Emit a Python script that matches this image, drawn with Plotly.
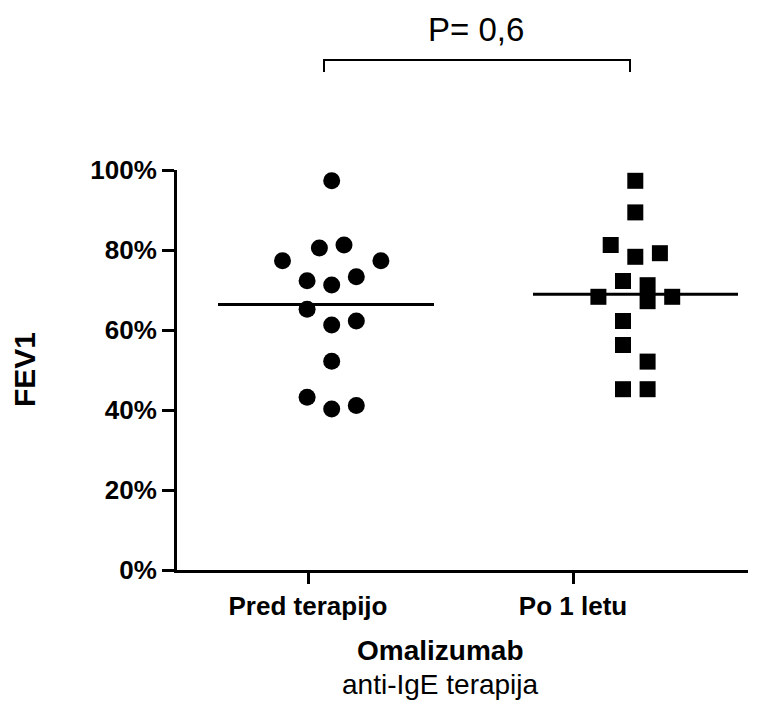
import numpy as np
import plotly.graph_objects as go

# ---- data (FEV1 in %) ----
categories = ["Pred terapijo", "Po 1 letu"]
fev1_pred = [97.3, 80.5, 81.25, 77.3, 77.3, 72.3, 71.25, 73.3, 65.2, 61.25, 62.25, 52.2, 43.2, 40.25, 41.1]
fev1_po = [97.3, 89.4, 81.25, 78.3, 79.2, 72.25, 71.2, 67.2, 68.3, 68.3, 62.25, 56.25, 52.1, 45.2, 45.2]
y_ticks = [0, 20, 40, 60, 80, 100]
y_tick_labels = ["0%", "20%", "40%", "60%", "80%", "100%"]
p_text = "P= 0,6"

# ---- layout / style (beeswarm column slots, in half-column units) ----
slots_pred = [0, -1, 1, -4, 4, -2, 0, 2, -2, 0, 2, 0, -2, 0, 2]
slots_po = [0, 0, -2, 0, 2, -1, 1, 1, -3, 3, -1, -1, 1, -1, 1]
X_RANGE = [0, 571]           # horizontal axis in pixel-like units
TICK_POS = [131, 396]
GROUP_CENTER = [154.7, 458.3]
SLOT_W = 12.3
LINE_CENTER = [149, 458.5]
LINE_HALF = [108, 102.5]

FONT = "Liberation Sans, Arial, Helvetica, sans-serif"

# page offset (default body margin of the html page)
OFF = 8
PL, PR, PT, PB = 177, 748, 170, 570   # plot box in page pixels
W, H = 783 - OFF, 702 - OFF


def px(x):
    return (x - PL) / (PR - PL)


def py(y):
    return (PB - y) / (PB - PT)


fig = go.Figure()

groups = [(fev1_pred, slots_pred, "circle", 17), (fev1_po, slots_po, "square", 16)]
for i, (vals, slots, sym, sz) in enumerate(groups):
    xs = [GROUP_CENTER[i] + s * SLOT_W for s in slots]
    fig.add_trace(go.Scatter(
        x=xs, y=vals, mode="markers",
        marker=dict(symbol=sym, size=sz, color="black", line=dict(width=0)),
        showlegend=False, hoverinfo="y", cliponaxis=False))
    m = float(np.mean(vals))
    fig.add_trace(go.Scatter(
        x=[LINE_CENTER[i] - LINE_HALF[i], LINE_CENTER[i] + LINE_HALF[i]], y=[m, m],
        mode="lines", line=dict(color="black", width=3),
        showlegend=False, hoverinfo="skip"))

fig.update_layout(
    width=W, height=H,
    margin=dict(l=PL - OFF, r=W - (PR - OFF), t=PT - OFF, b=H - (PB - OFF)),
    plot_bgcolor="white", paper_bgcolor="white",
    font=dict(family=FONT, color="black"),
    xaxis=dict(range=X_RANGE, tickvals=TICK_POS, ticktext=categories,
               showline=True, linecolor="black", linewidth=3,
               ticks="outside", ticklen=11, tickwidth=3, tickcolor="black",
               showgrid=False, zeroline=False, fixedrange=True,
               tickfont=dict(family=FONT, size=26, color="black", weight="bold")),
    yaxis=dict(range=[0, 100], tickvals=y_ticks, ticktext=y_tick_labels,
               showline=True, linecolor="black", linewidth=3,
               ticks="outside", ticklen=12, tickwidth=3, tickcolor="black",
               showgrid=False, zeroline=False, fixedrange=True,
               tickfont=dict(family=FONT, size=26, color="black", weight="bold")),
)

# y-axis title
fig.add_annotation(text="FEV1", xref="paper", yref="paper", x=px(24), y=py(370),
                   textangle=-90, showarrow=False, xanchor="center", yanchor="middle",
                   font=dict(family=FONT, size=30, color="black", weight="bold"))
# x-axis titles
fig.add_annotation(text="Omalizumab", xref="paper", yref="paper", x=px(440), y=py(650),
                   showarrow=False, yanchor="middle",
                   font=dict(family=FONT, size=28, color="black", weight="bold"))
fig.add_annotation(text="anti-IgE terapija", xref="paper", yref="paper", x=px(440), y=py(684),
                   showarrow=False, yanchor="middle",
                   font=dict(family=FONT, size=28, color="black"))

# significance bracket
fig.add_shape(type="path", xref="paper", yref="paper",
              path=f"M {px(324)},{py(72)} L {px(324)},{py(60)} L {px(630)},{py(60)} L {px(630)},{py(72)}",
              line=dict(color="black", width=2))
fig.add_annotation(text=p_text, xref="paper", yref="paper", x=px(476), y=py(30),
                   showarrow=False, yanchor="middle",
                   font=dict(family=FONT, size=33, color="black"))

fig.write_html("out.html")
